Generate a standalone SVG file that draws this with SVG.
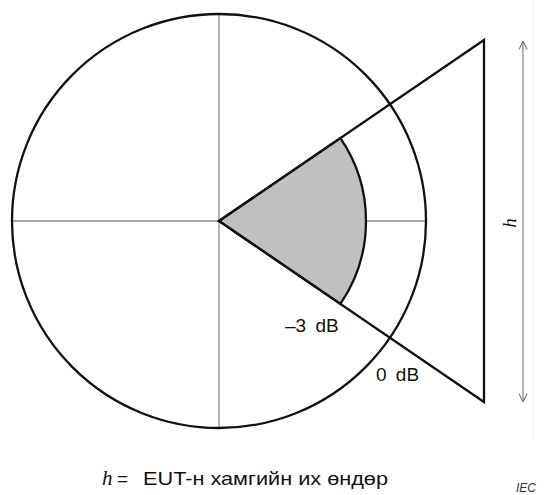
<svg xmlns="http://www.w3.org/2000/svg" width="544" height="495" viewBox="0 0 544 495">
<style>
.axis{stroke:#8a8a8a;stroke-width:1.3;fill:none}
.thick{stroke:#111;stroke-width:2.3;fill:none;stroke-linejoin:miter}
.dim{stroke:#777;stroke-width:1.1;fill:none}
.lbl{font-family:"Liberation Sans",Arial,sans-serif;font-size:19px;fill:#111}
.var{font-family:"Liberation Serif","Times New Roman",serif;font-style:italic;fill:#111}
</style>
<defs>
<marker id="open" viewBox="0 0 10 10" refX="9.5" refY="5" markerWidth="9" markerHeight="9" markerUnits="userSpaceOnUse" orient="auto">
<path d="M0,0.5 L9.5,5 L0,9.5" fill="none" stroke="#777" stroke-width="1.2"/>
</marker>
</defs>
<rect width="544" height="495" fill="#fff"/>
<line x1="533" y1="0" x2="533" y2="440" stroke="#f1f1f1" stroke-width="1"/>
<g id="axes">
<line class="axis" x1="12" y1="221" x2="426" y2="221"/>
<line class="axis" x1="219" y1="14" x2="219" y2="428"/>
</g>
<g id="pattern-0dB">
<circle class="thick" cx="219" cy="221" r="207"/>
</g>
<g id="sector-3dB">
<path d="M219,221 L340.4,138.1 A147,147 0 0 1 340.4,303.9 Z" fill="#c0c0c0" stroke="#111" stroke-width="2.3" stroke-linejoin="miter"/>
</g>
<g id="beam">
<polygon class="thick" points="219,221 484,40 484,402"/>
</g>
<g id="connectors">
<line class="dim" x1="523" y1="222" x2="523" y2="41" marker-end="url(#open)"/>
<line class="dim" x1="523" y1="222" x2="523" y2="402" marker-end="url(#open)"/>
</g>
<g id="labels">
<text class="lbl" x="285" y="332" word-spacing="4">–3 dB</text>
<text class="lbl" x="376" y="381" word-spacing="4">0 dB</text>
<text class="var" font-size="19" x="0" y="0" transform="translate(516,223) rotate(-90)" text-anchor="middle">h</text>
</g>
<g id="legend">
<text class="var" font-size="21" x="102" y="485">h</text>
<text class="lbl" font-size="19" x="117" y="485">=</text>
<text class="lbl" font-size="19" x="143" y="485" textLength="245" lengthAdjust="spacingAndGlyphs">EUT-н хамгийн их өндөр</text>
<text font-family="Liberation Sans,Arial,sans-serif" font-style="italic" font-size="12" fill="#333" x="516" y="492">IEC</text>
</g>
</svg>
